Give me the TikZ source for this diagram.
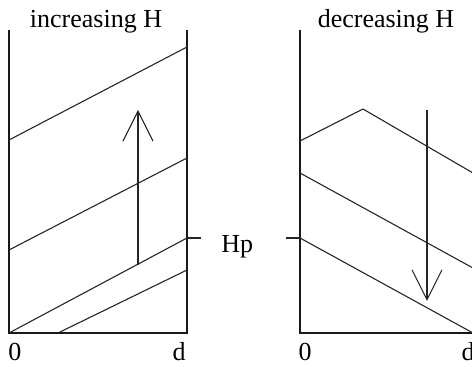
\documentclass[tikz,border=0pt]{standalone}
\usepackage{fontspec}
\setmainfont{Liberation Serif}
\usetikzlibrary{arrows.meta}
\begin{document}
\begin{tikzpicture}[x=0.5pt,y=-0.5pt,
  ln/.style={line width=0.55pt,black!85},
  axis/.style={line width=0.65pt,black!90},
  bigarrow/.style={ln,-{Straight Barb[length=15pt,width=15pt,line width=0.55pt]}},
  lbl/.style={font=\fontsize{13}{15}\selectfont,inner sep=0pt,anchor=base}]
\useasboundingbox (0,0) rectangle (472,367);
% ---------- left panel ----------
\coordinate (LTL) at (9,30);
\coordinate (LBL) at (9,333);
\coordinate (LBR) at (187,333);
\coordinate (LTR) at (187,30);
\draw[axis] (LTL) -- (LBL) -- (LBR) -- (LTR);
\coordinate (LHp) at (187,238);
\coordinate (LHpT) at (201,238);
\draw[ln] (LHp) -- (LHpT);
\draw[ln] (9,140) -- (187,47);
\draw[ln] (9,250) -- (187,158);
\draw[ln] (LBL) -- (LHp);
\draw[ln] (58,333) -- (187,270);
\coordinate (LA0) at (138,265);
\coordinate (LA1) at (138,110);
\draw[bigarrow] (LA0) -- (LA1);
\node[lbl] (tinc) at (96,28) {increasing H};
\node[lbl] (l0) at (15,361) {0};
\node[lbl] (ld) at (179,361) {d};
\node[lbl,anchor=base west] (hp) at (221,253) {Hp};
% ---------- right panel ----------
\coordinate (RTL) at (300,30);
\coordinate (RBL) at (300,333);
\coordinate (RBR) at (473,333);
\coordinate (RTR) at (473,30);
\draw[axis] (RTL) -- (RBL) -- (RBR) -- (RTR);
\coordinate (RHp) at (300,238);
\coordinate (RHpT) at (286,238);
\draw[ln] (RHpT) -- (RHp);
\draw[ln] (300,141) -- (363,109) -- (473,173);
\draw[ln] (300,173) -- (473,268);
\draw[ln] (RHp) -- (RBR);
\coordinate (RA0) at (427,110);
\coordinate (RA1) at (427,301);
\draw[bigarrow] (RA0) -- (RA1);
\node[lbl] (tdec) at (386,28) {decreasing H};
\node[lbl] (r0) at (305,361) {0};
\node[lbl] (rd) at (468,361) {d};
\end{tikzpicture}
\end{document}
